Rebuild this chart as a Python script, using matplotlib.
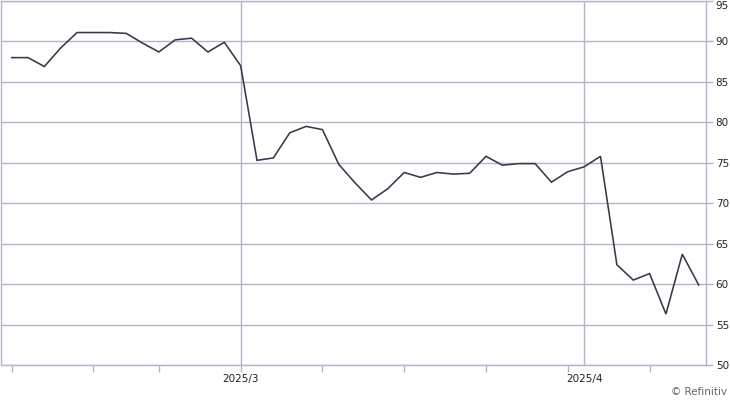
import matplotlib
matplotlib.use("Agg")
import matplotlib.pyplot as plt
import matplotlib.transforms as mtransforms

dates = ["02/10", "02/11", "02/12", "02/13", "02/14",
         "02/18", "02/19", "02/20", "02/21",
         "02/24", "02/25", "02/26", "02/27", "02/28",
         "03/03", "03/04", "03/05", "03/06", "03/07",
         "03/10", "03/11", "03/12", "03/13", "03/14",
         "03/17", "03/18", "03/19", "03/20", "03/21",
         "03/24", "03/25", "03/26", "03/27", "03/28",
         "03/31", "04/01", "04/02", "04/03", "04/04",
         "04/07", "04/08", "04/09", "04/10"]
values = [88.0, 88.0, 86.9, 89.2, 91.1,
          91.1, 91.1, 91.0, 89.8,
          88.7, 90.2, 90.4, 88.7, 89.9,
          87.0, 75.3, 75.6, 78.7, 79.5,
          79.1, 74.8, 72.5, 70.4, 71.8,
          73.8, 73.2, 73.8, 73.6, 73.7,
          75.8, 74.7, 74.9, 74.9, 72.6,
          73.9, 74.5, 75.8, 62.4, 60.5,
          61.3, 56.3, 63.7, 59.9]
week_starts = ["02/10", "02/18", "02/24", "03/03", "03/10", "03/17", "03/24", "03/31", "04/07"]
month_starts = ["03/03", "04/01"]
month_labels = ["2025/3", "2025/4"]
y_ticks = [50, 55, 60, 65, 70, 75, 80, 85, 90, 95]

grid_c = "#b4b4c8"
text_c = "#222222"

fig = plt.figure(figsize=(7.3, 4.0), dpi=100)
ax = fig.add_axes([0.0014, 1 - 365 / 400, 705 / 730, 364 / 400])

x = list(range(len(dates)))
ax.plot(x, values, color="#353a48", lw=1.15, solid_joinstyle="miter")

ax.set_xlim(-0.65, len(dates) - 0.55)
ax.set_ylim(50, 95)

for v in y_ticks:
    ax.axhline(v, color=grid_c, lw=1, zorder=0)
for m in month_starts:
    ax.axvline(dates.index(m), color=grid_c, lw=1, zorder=0)

ax.set_xticks([dates.index(d) for d in week_starts])
ax.set_xticklabels([])
ax.tick_params(axis="x", which="major", direction="out", length=5, color=grid_c, width=1)

trans = mtransforms.blended_transform_factory(ax.transData, ax.transAxes)
for m, lab in zip(month_starts, month_labels):
    ax.text(dates.index(m), -14 / 364, lab, transform=trans, ha="center", va="center",
            fontsize=7.5, color=text_c)

ax.yaxis.tick_right()
ax.set_yticks(y_ticks)
ax.set_yticklabels([str(v) for v in y_ticks])
ax.tick_params(axis="y", direction="out", length=5, color=grid_c, width=1,
               labelsize=7.5, labelcolor=text_c, pad=2)
labels = ax.get_yticklabels()
labels[-1].set_verticalalignment("top")

for s in ax.spines.values():
    s.set_color(grid_c)
    s.set_linewidth(1)

fig.text(727 / 730, 1 - 392 / 400, "© Refinitiv", ha="right", va="center",
         fontsize=7.5, color="#666666")

fig.savefig("out.png", dpi=100)
